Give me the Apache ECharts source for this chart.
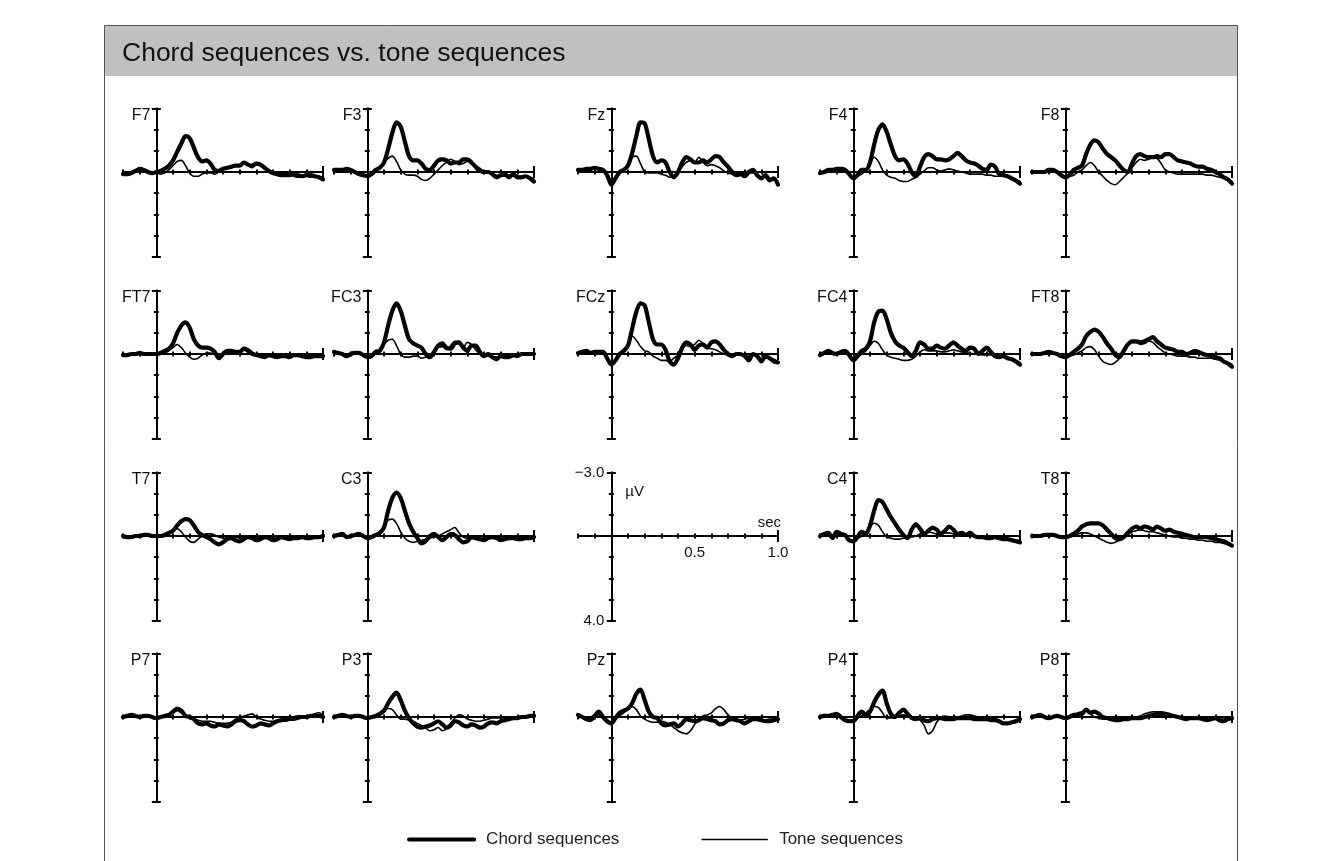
<!DOCTYPE html>
<html><head><meta charset="utf-8">
<script src="https://cdn.jsdelivr.net/npm/echarts/dist/echarts.min.js"></script>
<style>html,body{margin:0;padding:0;background:#fff}#chart{width:1327px;height:861px}</style>
</head><body><div id="chart"></div>
<script>
// ---------- data ----------
const times = [-0.2,-0.175,-0.15,-0.125,-0.1,-0.075,-0.05,-0.025,0,0.025,0.05,0.075,0.1,0.125,0.15,0.175,0.2,0.225,0.25,0.275,0.3,0.325,0.35,0.375,0.4,0.425,0.45,0.475,0.5,0.525,0.55,0.575,0.6,0.625,0.65,0.675,0.7,0.725,0.75,0.775,0.8,0.825,0.85,0.875,0.9,0.925,0.95,0.975,1.0];
const electrodes = ['F7','F3','Fz','F4','F8','FT7','FC3','FCz','FC4','FT8','T7','C3',null,'C4','T8','P7','P3','Pz','P4','P8'];
const seriesNames = ['Chord sequences','Tone sequences'];
const scaleYLabels = [[-3,'\u22123.0'],[4,'4.0']];
const scaleXLabels = [[0.5,'0.5'],[1.0,'1.0']];

const F7_chord = [0.1,0.1,0.05,-0.05,-0.15,-0.1,0,0.05,0, -0.05,-0.15,-0.3,-0.55,-0.95,-1.35,-1.7,-1.6, -1.15,-0.7,-0.5,-0.55,-0.4,-0.1,-0.05,-0.15, -0.2,-0.25,-0.3,-0.3,-0.45,-0.35,-0.3,-0.4, -0.35,-0.2,-0.05,0.05,0.1,0.15,0.15,0.15, 0.1,0.15,0.2,0.15,0.15,0.2,0.25,0.35];
const F7_tone  = [0.1,0.05,0,-0.05,-0.1,-0.05,0,0.05,0.05, 0.1,0.05,-0.1,-0.3,-0.5,-0.55,-0.3,0.05, 0.2,0.2,0.1,0.05,0.05,0.1,0,-0.1, -0.2,-0.2,-0.3,-0.35,-0.4,-0.3,-0.2,-0.35, -0.3,-0.15,0,0.1,0.15,0.2,0.2,0.15, 0.2,0.25,0.2,0.2,0.25,0.2,0.2,0.3];
const F3_chord = [-0.1,-0.1,-0.1,-0.15,-0.1,0,0.1,0.15,0.2, 0.1,-0.1,-0.2,-0.45,-1.1,-1.85,-2.35,-2.15, -1.45,-0.75,-0.55,-0.55,-0.4,-0.15,-0.1,-0.3, -0.55,-0.6,-0.55,-0.4,-0.45,-0.45,-0.6,-0.6, -0.45,-0.25,-0.1,0,0,0.1,0.25,0.15, 0.1,0.25,0.1,0.25,0.25,0.2,0.3,0.45];
const F3_tone  = [-0.05,-0.05,-0.1,-0.1,-0.05,0,0.05,0.1,0.15, 0.1,0,-0.2,-0.45,-0.65,-0.75,-0.5,-0.1, 0.1,0.15,0.15,0.2,0.35,0.4,0.3,0.1, -0.1,-0.3,-0.45,-0.6,-0.5,-0.35,-0.4,-0.5, -0.4,-0.15,0,0.05,0.05,0.1,0.15,0.2, 0.2,0.2,0.2,0.2,0.2,0.2,0.25,0.35];
const Fz_chord = [-0.1,-0.1,-0.15,-0.15,-0.2,-0.15,-0.1,0.15,0.6, 0.3,0,-0.1,-0.3,-0.9,-1.7,-2.35,-2.3, -1.55,-0.75,-0.45,-0.55,-0.45,0,0.25,0, -0.45,-0.7,-0.6,-0.45,-0.45,-0.55,-0.45,-0.6, -0.75,-0.7,-0.45,-0.25,0,0.15,0.1,0.2, 0,-0.1,0.15,0.3,0.15,0.4,0.3,0.6];
const Fz_tone  = [-0.05,-0.05,-0.1,-0.1,-0.15,-0.1,-0.05,0.1,0.4, 0.25,0.05,-0.1,-0.4,-0.7,-0.75,-0.4,0, 0.05,0.05,0.05,0.1,0.15,0.25,0.2,0, -0.25,-0.45,-0.55,-0.45,-0.7,-0.45,-0.3,-0.35, -0.3,-0.2,-0.05,0.05,0.1,0.15,0.15,0.1, 0.05,0.05,0.15,0.25,0.25,0.3,0.35,0.5];
const F4_chord = [0.05,0,-0.1,-0.1,-0.15,-0.15,-0.1,0.1,0.3, 0.15,-0.1,-0.1,-0.45,-1.3,-2.0,-2.25,-1.9, -1.3,-0.75,-0.55,-0.6,-0.4,0,0.2,-0.25, -0.7,-0.85,-0.75,-0.6,-0.6,-0.55,-0.6,-0.75, -0.9,-0.75,-0.55,-0.45,-0.4,-0.3,-0.15,-0.1, -0.35,-0.25,0.1,0.15,0.2,0.3,0.4,0.55];
const F4_tone  = [0.05,0.05,0,-0.05,-0.05,-0.05,-0.05,0.1,0.25, 0.2,0.1,-0.1,-0.4,-0.7,-0.5,-0.1,0.15, 0.25,0.3,0.4,0.45,0.45,0.35,0.25,0.1, -0.05,-0.2,-0.2,-0.1,-0.05,-0.1,-0.15,-0.1, -0.05,0,0.05,0.1,0.1,0.1,0.1,0.15, 0.15,0.2,0.2,0.2,0.25,0.3,0.35,0.45];
const F8_chord = [0,0,0,0,-0.1,-0.1,0,0.15,0.25, 0.15,-0.1,-0.2,-0.3,-0.85,-1.3,-1.5,-1.4, -1.1,-0.85,-0.7,-0.55,-0.3,-0.1,0,-0.4, -0.75,-0.85,-0.75,-0.7,-0.7,-0.75,-0.7,-0.85, -0.85,-0.7,-0.55,-0.5,-0.45,-0.4,-0.3,-0.25, -0.25,-0.15,-0.1,0,0.1,0.25,0.35,0.55];
const F8_tone  = [0,0,0,-0.05,-0.05,-0.05,0,0.1,0.2, 0.2,0.15,0,-0.1,-0.3,-0.45,-0.3,0, 0.2,0.4,0.55,0.6,0.45,0.25,0.05,-0.2, -0.45,-0.6,-0.55,-0.6,-0.7,-0.65,-0.4,-0.1, 0,0.05,0.1,0.1,0.1,0.1,0.1,0.1, 0.1,0.15,0.15,0.2,0.25,0.3,0.35,0.45];
const FT7_chord = [0.05,0.05,0,0,-0.05,0,0,0,0, -0.05,-0.15,-0.25,-0.5,-1.0,-1.35,-1.5,-1.25, -0.7,-0.4,-0.3,-0.3,-0.25,-0.1,0.2,0, -0.15,-0.15,-0.1,-0.1,-0.25,-0.15,0,0.05, 0.1,0.15,0.05,0.1,0.15,0.1,0.1,0.15, 0.05,0.05,0.1,0.15,0.15,0.1,0.1,0.1];
const FT7_tone  = [0.05,0.05,0,0,0,0,0,0,0, 0,-0.05,-0.15,-0.3,-0.45,-0.3,-0.05,0.15, 0.25,0.2,0.05,-0.05,-0.05,0,0.05,0.05, -0.05,-0.2,-0.15,-0.1,-0.3,-0.25,-0.1,0, 0.05,0.1,0.1,0.1,0.1,0.1,0.1,0.1, 0.1,0.1,0.1,0.1,0.1,0.1,0.1,0.1];
const FC3_chord = [-0.1,-0.05,0,0.1,0,-0.05,-0.05,0.05,0.15, 0.1,-0.1,-0.15,-0.55,-1.35,-2.05,-2.4,-2.05, -1.35,-0.7,-0.5,-0.4,-0.3,0,0.15,-0.1, -0.4,-0.5,-0.3,-0.25,-0.5,-0.55,-0.3,-0.15, -0.4,-0.4,-0.1,0.1,0,0.15,0.25,0.1, 0.15,0.15,0.05,0.1,0,0,0,0];
const FC3_tone  = [-0.1,-0.05,0,0.05,0,-0.05,-0.05,0,0.1, 0.05,0,-0.2,-0.45,-0.65,-0.7,-0.4,0, 0.15,0.15,0.1,0.1,0.2,0.15,0.1,-0.1, -0.3,-0.35,-0.2,-0.4,-0.6,-0.5,-0.3,-0.55, -0.45,-0.2,0,0.1,0.1,0.15,0.15,0.1, 0.1,0.1,0.05,0.05,0.05,0,0,0];
const FCz_chord = [-0.05,-0.1,-0.15,-0.05,-0.1,-0.1,-0.1,0.2,0.5, 0.3,0,-0.15,-0.4,-1.2,-2.0,-2.4,-2.3, -1.5,-0.7,-0.45,-0.45,-0.2,0.35,0.5,0.2, -0.3,-0.55,-0.45,-0.2,-0.4,-0.45,-0.3,-0.55, -0.6,-0.45,-0.2,0,0.1,0,0,0.1, 0.3,0,0.1,0.35,0.1,0.2,0.35,0.4];
const FCz_tone  = [-0.05,-0.05,-0.1,-0.05,-0.1,-0.05,-0.05,0.15,0.45, 0.25,0.05,-0.15,-0.5,-0.85,-0.65,-0.35,-0.15, -0.1,0.1,0.2,0.3,0.3,0.35,0.2,0.05, -0.25,-0.4,-0.35,-0.45,-0.65,-0.5,-0.3,-0.25, -0.2,-0.1,0,0.05,0.05,0.05,0.05,0.1, 0.1,0.05,0.1,0.2,0.2,0.2,0.25,0.35];
const FC4_chord = [0.05,-0.05,-0.15,-0.05,0,-0.1,-0.15,0.05,0.3, 0.1,-0.15,-0.25,-0.6,-1.5,-2.0,-2.05,-1.65, -1.0,-0.6,-0.4,-0.3,-0.1,0.1,-0.15,-0.55, -0.45,-0.25,-0.25,-0.4,-0.3,-0.25,-0.4,-0.55, -0.4,-0.25,-0.15,-0.3,-0.25,0,-0.15,-0.3, -0.1,0.1,0.15,0.1,0.2,0.25,0.35,0.5];
const FC4_tone  = [0.05,0,-0.05,-0.05,0,-0.05,-0.05,0.05,0.25, 0.15,0,-0.15,-0.4,-0.6,-0.5,-0.2,0.05, 0.15,0.2,0.25,0.3,0.3,0.25,0.1,-0.1, -0.2,-0.15,-0.15,-0.15,-0.1,-0.1,-0.15,-0.2, -0.15,-0.1,-0.05,-0.05,0,0,0.05,0.05, 0.05,0.1,0.1,0.1,0.15,0.2,0.3,0.4];
const FT8_chord = [0,0,0,-0.05,-0.1,-0.05,0,0.1,0.15, 0.05,-0.1,-0.25,-0.45,-0.85,-1.05,-1.15,-1.05, -0.8,-0.5,-0.25,0.05,0.15,-0.15,-0.45,-0.6, -0.6,-0.55,-0.6,-0.7,-0.8,-0.6,-0.45,-0.3, -0.25,-0.2,-0.1,-0.1,0,-0.05,-0.15,-0.1, 0,0.05,0.1,0.15,0.2,0.35,0.45,0.6];
const FT8_tone  = [0,0,0,-0.05,-0.05,-0.05,0,0.1,0.15, 0.1,0.05,-0.05,-0.15,-0.3,-0.35,-0.2,0.1, 0.35,0.45,0.5,0.4,0.2,-0.1,-0.4,-0.55, -0.55,-0.45,-0.5,-0.6,-0.55,-0.35,-0.2,-0.05, 0,0.05,0.1,0.1,0.1,0.15,0.15,0.2, 0.2,0.2,0.2,0.25,0.3,0.35,0.4,0.5];
const T7_chord = [0,0.05,0.05,0,0,-0.05,-0.05,0,0, 0,-0.05,-0.15,-0.25,-0.5,-0.7,-0.8,-0.75, -0.5,-0.2,-0.05,0.05,0.15,0.3,0.4,0.3, 0.15,0.1,0.2,0.25,0.15,0.05,0.1,0.2, 0.15,0.05,0.1,0.2,0.15,0.05,0.1,0.15, 0.1,0.1,0.05,0.1,0.1,0.05,0.05,0];
const T7_tone  = [0,0.05,0.05,0,0,-0.05,0,0,0, 0,0,-0.1,-0.3,-0.35,-0.2,0.05,0.25, 0.3,0.15,0,-0.1,-0.1,-0.05,0.05,0.1, 0.1,0.05,0.05,0.1,0.05,0.05,0.05,0.1, 0.1,0.05,0.05,0.1,0.1,0.05,0.05,0.05, 0.05,0.05,0.05,0.05,0.05,0.05,0,0];
const C3_chord = [0,-0.05,-0.1,0.05,0,-0.05,-0.1,0,0.1, 0.05,-0.05,-0.15,-0.4,-1.2,-1.8,-2.05,-1.8, -1.2,-0.6,-0.2,0.1,0.35,0.25,0,-0.1, 0.05,0.2,0.05,-0.1,-0.05,0.15,0.3,0.25, 0.05,0.1,0.15,0.2,0.1,0.05,0.1,0.2, 0.15,0.1,0.1,0.15,0.15,0.1,0.1,0.05];
const C3_tone  = [0,-0.05,-0.1,0.05,0,-0.05,-0.05,0,0.05, 0.05,-0.05,-0.2,-0.5,-0.75,-0.8,-0.6,-0.2, 0.1,0.25,0.3,0.25,0.2,0.15,0.1,0.05, 0,-0.1,-0.2,-0.3,-0.4,-0.15,0.05,0.1, 0.05,0.05,0.1,0.1,0.05,0.05,0.05,0.05, 0.05,0.1,0.1,0.1,0.1,0.05,0.05,0.05];
const C4_chord = [0,-0.1,-0.15,0.1,-0.2,-0.1,-0.05,0.2,0.25, 0.05,-0.2,-0.1,-0.5,-1.2,-1.7,-1.6,-1.25, -0.9,-0.6,-0.3,-0.05,0.1,-0.3,-0.55,-0.35, -0.1,-0.25,-0.4,-0.3,-0.1,-0.25,-0.45,-0.3, -0.1,-0.15,-0.05,-0.15,0,0.05,0.05,0.1, 0.1,0.05,0.1,0.15,0.15,0.2,0.25,0.3];
const C4_tone  = [0,-0.05,-0.1,0.05,-0.1,-0.05,0,0.15,0.2, 0.1,0,-0.2,-0.45,-0.6,-0.5,-0.2,0.05, 0.1,0.15,0.15,0.1,0.05,0.05,0,-0.1, -0.15,-0.2,-0.15,-0.1,-0.1,-0.15,-0.15,-0.1, -0.05,-0.05,0,0,0,0.05,0.05,0.05, 0.05,0.05,0.1,0.1,0.15,0.15,0.2,0.2];
const T8_chord = [0,0,0,-0.05,-0.05,-0.05,0,0.05,0.05, 0,-0.1,-0.25,-0.45,-0.55,-0.6,-0.6,-0.6, -0.5,-0.3,-0.1,0.1,0.15,0.05,-0.15,-0.35, -0.45,-0.35,-0.45,-0.4,-0.3,-0.45,-0.35,-0.25, -0.3,-0.2,-0.15,-0.1,-0.05,0,0.05,0.05, 0.05,0.05,0.1,0.15,0.2,0.25,0.35,0.45];
const T8_tone  = [0,0,0,-0.05,-0.05,-0.05,0,0.05,0.05, 0.05,0,-0.1,-0.15,-0.15,-0.1,0,0.1, 0.2,0.3,0.35,0.3,0.2,0.1,-0.05,-0.2, -0.25,-0.3,-0.25,-0.2,-0.2,-0.15,-0.1,-0.05, 0,0.05,0.05,0.1,0.1,0.15,0.15,0.2, 0.2,0.25,0.25,0.3,0.3,0.35,0.4,0.45];
const P7_chord = [0,-0.05,-0.1,-0.05,0,-0.05,-0.05,0,0.05, 0,-0.05,-0.1,-0.25,-0.4,-0.3,-0.05,0, 0.1,0.3,0.35,0.3,0.4,0.45,0.35,0.4, 0.45,0.35,0.2,0.15,0.2,0.35,0.45,0.4, 0.3,0.35,0.4,0.3,0.2,0.15,0.1,0.05, 0.05,0,0,0,-0.05,-0.05,-0.05,0];
const P7_tone  = [0,-0.05,-0.1,-0.05,0,0,0,0,0, 0,0,-0.1,-0.2,-0.3,-0.2,-0.05,0.05, 0.1,0.15,0.2,0.2,0.2,0.25,0.3,0.3, 0.3,0.25,0.1,0,-0.05,-0.1,-0.15,0, 0.1,0.15,0.2,0.2,0.2,0.2,0.2,0.15, 0.15,0.1,0.05,0.05,-0.05,-0.15,-0.2,-0.1];
const P3_chord = [0,-0.05,-0.1,-0.05,0,-0.05,-0.05,0,0.05, 0,-0.05,-0.15,-0.3,-0.65,-0.95,-1.15,-0.8, -0.3,0.05,0.3,0.45,0.5,0.45,0.4,0.3, 0.2,0.35,0.5,0.4,0.2,0.25,0.4,0.45, 0.35,0.4,0.5,0.45,0.3,0.25,0.3,0.2, 0.15,0.1,0.05,0.05,0,0,-0.05,-0.05];
const P3_tone  = [0,-0.05,-0.1,-0.05,0,-0.05,0,0,0.05, 0,0,-0.1,-0.3,-0.4,-0.35,-0.1,0.1, 0.1,0.15,0.2,0.3,0.4,0.5,0.65,0.6, 0.5,0.65,0.55,0.3,0.05,-0.1,-0.05,0.1, 0.15,0.2,0.2,0.15,0.1,0.05,0.05,0.05, 0.05,0.05,0.05,0,0,0,0,0];
const Pz_chord = [-0.1,0,0.1,0.15,-0.05,-0.25,0,0.2,0.3, 0.05,-0.2,-0.3,-0.4,-0.65,-1.1,-1.3,-0.8, -0.25,0,0.05,0.3,0.4,0.35,0.3,0.45, 0.3,0.1,0.15,0.2,0.15,0.05,0.1,0.15, 0.2,0.35,0.3,0.15,0.1,0.15,0.2,0.3, 0.2,0.1,0.1,0.15,0.2,0.2,0.15,0.1];
const Pz_tone  = [0,0,0.05,0,-0.1,-0.1,0,0.15,0.3, 0.1,-0.05,-0.2,-0.4,-0.5,-0.35,-0.05,0.1, 0.2,0.25,0.25,0.2,0.25,0.35,0.5,0.65, 0.75,0.8,0.65,0.35,0.1,-0.05,-0.1,-0.2, -0.4,-0.5,-0.35,-0.1,0.05,0.1,0.15,0.1, 0.05,0.1,0.15,0.2,0.15,0.1,0.1,0.05];
const P4_chord = [0,-0.05,-0.05,-0.1,-0.15,0,0.15,0.2,0.2, -0.05,-0.25,-0.1,-0.25,-0.7,-1.05,-1.25,-0.65, -0.15,0,-0.2,-0.35,-0.15,0.05,0.1,0.05, 0.15,0.2,0.1,0.05,0.05,0.1,0.1,0.1, 0.05,0.05,0.05,0.05,0.1,0.1,0.1,0.1, 0.15,0.15,0.2,0.3,0.3,0.25,0.2,0.1];
const P4_tone  = [0,-0.05,-0.05,-0.1,-0.1,0,0.1,0.15,0.15, 0.05,-0.05,-0.2,-0.35,-0.5,-0.45,-0.2,0.05, 0.05,0.05,-0.05,-0.1,-0.05,0,0.05,0.15, 0.4,0.8,0.65,0.25,0,-0.05,0,0.05, 0,-0.05,-0.1,-0.1,-0.05,0,0.05,0.05, 0.1,0.15,0.2,0.3,0.3,0.3,0.25,0.15];
const P8_chord = [0,-0.05,-0.1,0,0.05,0,-0.05,0,0.05, 0,-0.1,-0.1,-0.15,-0.35,-0.2,-0.25,-0.15, 0,0.05,0.1,0.15,0.15,0.1,0.1,0.05, 0.05,0.05,0,-0.05,-0.1,-0.15,-0.15,-0.15, -0.1,-0.05,0,0.05,0.1,0.05,0.05,0.05, 0.1,0.15,0.1,0.05,0.15,0.2,0.1,0.05];
const P8_tone  = [0,-0.05,-0.05,0,0,0,0,0,0, -0.05,-0.1,-0.2,-0.25,-0.3,-0.15,0,0.05, 0.1,0.1,0.15,0.15,0.15,0.15,0.1,0.05, 0,-0.05,-0.15,-0.2,-0.25,-0.25,-0.25,-0.2, -0.15,-0.05,0,0.05,0.05,0.1,0.1,0.1, 0.1,0.1,0.1,0.1,0.05,0.05,0.05,0.05];

// lookup built from the named arrays
const chordByElectrode = {F7:F7_chord,F3:F3_chord,Fz:Fz_chord,F4:F4_chord,F8:F8_chord,FT7:FT7_chord,FC3:FC3_chord,FCz:FCz_chord,FC4:FC4_chord,FT8:FT8_chord,T7:T7_chord,C3:C3_chord,C4:C4_chord,T8:T8_chord,P7:P7_chord,P3:P3_chord,Pz:Pz_chord,P4:P4_chord,P8:P8_chord};
const toneByElectrode  = {F7:F7_tone,F3:F3_tone,Fz:Fz_tone,F4:F4_tone,F8:F8_tone,FT7:FT7_tone,FC3:FC3_tone,FCz:FCz_tone,FC4:FC4_tone,FT8:FT8_tone,T7:T7_tone,C3:C3_tone,C4:C4_tone,T8:T8_tone,P7:P7_tone,P3:P3_tone,Pz:Pz_tone,P4:P4_tone,P8:P8_tone};

// ---------- layout ----------
const FONT = '"Liberation Sans", Arial, Helvetica, sans-serif';
const COL_LEFT = [123, 334, 578, 820, 1032];
const ROW_ZERO = [172, 354, 536, 717];
const PX_PER_UV = 21.14;
const PANEL_W = 200;
const X_MIN = -0.2, X_MAX = 1.0, Y_MIN = -3, Y_MAX = 4;
const INK = '#000';

const chart = echarts.init(document.getElementById('chart'), null, {renderer: 'canvas'});

const grids = [], xAxes = [], yAxes = [], series = [];
const X_PER_GRID = 4, Y_PER_GRID = 4;
electrodes.forEach((el, k) => {
  const r = Math.floor(k / 5), c = k % 5;
  grids.push({left: COL_LEFT[c], top: ROW_ZERO[r] - 3 * PX_PER_UV, width: PANEL_W, height: 7 * PX_PER_UV, outerBoundsMode: 'none', containLabel: false});
  const xMain = X_PER_GRID * k, yMain = Y_PER_GRID * k;
  // main axes (ticks on both sides) + end-cap axes
  [['bottom', null], ['top', null], ['bottom', [X_MAX]], ['top', [X_MAX]]].forEach(([pos, capVals]) => {
    xAxes.push({
      type: 'value', gridIndex: k, position: pos, min: X_MIN, max: X_MAX, interval: 0.1,
      axisLine: {show: !capVals, onZero: true, onZeroAxisIndex: yMain, lineStyle: {color: INK, width: 2}},
      axisTick: capVals ? {show: true, length: 6, customValues: capVals, lineStyle: {color: INK, width: 2}}
                        : {show: true, length: 2.5, lineStyle: {color: INK, width: 2}},
      splitLine: {show: false}, axisLabel: {show: false}
    });
  });
  [['left', null], ['right', null], ['left', [Y_MIN, Y_MAX]], ['right', [Y_MIN, Y_MAX]]].forEach(([pos, capVals]) => {
    yAxes.push({
      type: 'value', gridIndex: k, position: pos, min: Y_MIN, max: Y_MAX, interval: 1, inverse: true,
      axisLine: {show: !capVals, onZero: true, onZeroAxisIndex: xMain, lineStyle: {color: INK, width: 2}},
      axisTick: capVals ? {show: true, length: 4.5, customValues: capVals, lineStyle: {color: INK, width: 2}}
                        : {show: true, length: 2.5, lineStyle: {color: INK, width: 2}},
      splitLine: {show: false}, axisLabel: {show: false}
    });
  });
  if (el) {
    const mk = arr => times.map((t, i) => [t, arr[i]]);
    series.push({
      type: 'line', name: seriesNames[1], xAxisIndex: xMain, yAxisIndex: yMain,
      data: mk(toneByElectrode[el]), symbol: 'none', smooth: 0.3, silent: true, z: 3,
      lineStyle: {color: INK, width: 1.6, cap: 'round', join: 'round'}, itemStyle: {color: INK}
    });
    series.push({
      type: 'line', name: seriesNames[0], xAxisIndex: xMain, yAxisIndex: yMain,
      data: mk(chordByElectrode[el]), symbol: 'none', smooth: 0.3, silent: true, z: 4,
      lineStyle: {color: INK, width: 4.2, cap: 'round', join: 'round'}, itemStyle: {color: INK}
    });
  }
});

const option = {
  backgroundColor: '#fff',
  animation: false,
  textStyle: {fontFamily: FONT},
  title: {
    text: 'Chord sequences vs. tone sequences', left: 117, top: 35, z: 10,
    textStyle: {fontSize: 26.5, fontWeight: 'normal', color: '#111', fontFamily: FONT}
  },
  legend: {
    data: [seriesNames[0], seriesNames[1]], left: 402, top: 826, itemWidth: 65, itemHeight: 14, itemGap: 82,
    selectedMode: false,
    lineStyle: {width: 'inherit'},
    itemStyle: {opacity: 0, borderWidth: 0, color: 'rgba(0,0,0,0)'},
    textStyle: {fontSize: 17, color: '#222', fontFamily: FONT, padding: [0, 0, 0, 7]}
  },
  grid: grids, xAxis: xAxes, yAxis: yAxes, series: series
};
chart.setOption(option);

// labels placed through the library's own coordinate conversion
const txt = (x, y, text, size, align, valign) => ({
  type: 'text', z: 5, x: x, y: y, silent: true,
  style: {text: text, fill: '#111', font: size + 'px ' + FONT, align: align, verticalAlign: valign, textAlign: align, textVerticalAlign: valign}
});
const gfx = [
  {type: 'rect', z: 0, shape: {x: 104, y: 25, width: 1134, height: 51}, style: {fill: '#c0c0c0'}, silent: true},
  {type: 'rect', z: 0, shape: {x: 104.5, y: 25.5, width: 1133, height: 900}, style: {fill: 'none', stroke: '#555', lineWidth: 1}, silent: true}
];
electrodes.forEach((el, k) => {
  if (el) {
    const p = chart.convertToPixel({gridIndex: k}, [0, Y_MIN]);
    gfx.push(txt(p[0] - 6, p[1] - 1, el, 16, 'right', 'top'));
  } else {
    const pu = chart.convertToPixel({gridIndex: k}, [0, -2.1]);
    gfx.push(txt(pu[0] + 14, pu[1], '\u00b5V', 15, 'left', 'middle'));
    const ps = chart.convertToPixel({gridIndex: k}, [X_MAX, -0.6]);
    gfx.push(txt(ps[0] + 3, ps[1], 'sec', 15, 'right', 'middle'));
    scaleYLabels.forEach(([v, s]) => {
      const p = chart.convertToPixel({gridIndex: k}, [0, v]);
      gfx.push(txt(p[0] - 7, p[1], s, 15, 'right', 'middle'));
    });
    scaleXLabels.forEach(([v, s]) => {
      const p = chart.convertToPixel({gridIndex: k}, [v, 0]);
      gfx.push(txt(p[0], p[1] + 9, s, 15, 'center', 'top'));
    });
  }
});
chart.setOption({graphic: {elements: gfx}});
</script>
</body></html>
